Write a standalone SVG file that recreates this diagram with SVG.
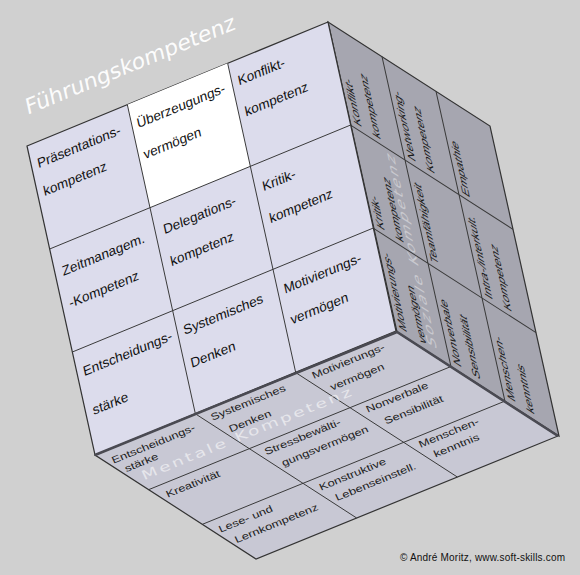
<svg xmlns="http://www.w3.org/2000/svg" width="580" height="575" viewBox="0 0 580 575">
<style>
.face{stroke:#333;stroke-width:1.2;vector-effect:non-scaling-stroke}
.grid{stroke:#3a3a3a;stroke-width:1;vector-effect:non-scaling-stroke;fill:none}
.edge{stroke:#4a4a52;stroke-width:2.5;vector-effect:non-scaling-stroke;fill:none}
text{font-family:"Liberation Sans",Arial,sans-serif}
.ft{font-size:12.8px;fill:#111}
.rt{font-size:12.6px;fill:#1a1a1a}
.bt{font-size:11.9px;fill:#222}
.wm{font-family:"DejaVu Sans",Verdana,sans-serif;fill:#ffffff}
</style>
<rect width="580" height="575" fill="#d0d0d0"/>

<!-- bottom face -->
<g id="bottom-face" transform="matrix(1.00667,-0.41,0.53667,0.34667,95,455)">
  <rect class="face" x="0" y="0" width="300" height="300" fill="#c8c8d4"/>
  <path class="grid" d="M100 0V300M200 0V300M0 100H300M0 200H300"/>
  <text class="wm" transform="matrix(1,0,-0.45,1.45,6,80)" font-size="17" letter-spacing="2.4" opacity="0.55">Mentale Kompetenz</text>
  <g id="b-entscheidung"><text class="bt" transform="matrix(1,0,-0.494,1.579,3,29)">Entscheidungs-</text><text class="bt" transform="matrix(1,0,-0.494,1.579,3,53)">stärke</text></g>
  <g id="b-systemisch"><text class="bt" transform="matrix(1,0,-0.494,1.579,104,24)">Systemisches</text><text class="bt" transform="matrix(1,0,-0.494,1.579,104,58)">Denken</text></g>
  <g id="b-motivierung"><text class="bt" transform="matrix(1,0,-0.494,1.579,205,23)">Motivierungs-</text><text class="bt" transform="matrix(1,0,-0.494,1.579,205,57)">vermögen</text></g>
  <g id="b-kreativ"><text class="bt" transform="matrix(1,0,-0.494,1.579,4,128)">Kreativität</text></g>
  <g id="b-stress"><text class="bt" transform="matrix(1,0,-0.494,1.579,104,124)">Stressbewälti-</text><text class="bt" transform="matrix(1,0,-0.494,1.579,104,156)">gungsvermögen</text></g>
  <g id="b-nonverbal"><text class="bt" transform="matrix(1,0,-0.494,1.579,206,122)">Nonverbale</text><text class="bt" transform="matrix(1,0,-0.494,1.579,206,156)">Sensibilität</text></g>
  <g id="b-lese"><text class="bt" transform="matrix(1,0,-0.494,1.579,3,228)">Lese- und</text><text class="bt" transform="matrix(1,0,-0.494,1.579,3,258)">Lernkompetenz</text></g>
  <g id="b-konstruktiv"><text class="bt" transform="matrix(1,0,-0.494,1.579,104,226)">Konstruktive</text><text class="bt" transform="matrix(1,0,-0.494,1.579,104,256)">Lebenseinstell.</text></g>
  <g id="b-menschen"><text class="bt" transform="matrix(1,0,-0.494,1.579,205,222)">Menschen-</text><text class="bt" transform="matrix(1,0,-0.494,1.579,205,250)">kenntnis</text></g>
</g>

<!-- right face -->
<g id="right-face" transform="matrix(-0.23,-1.03333,0.54,0.34667,397,332)">
  <rect class="face" x="0" y="0" width="300" height="300" fill="#a6a6b0"/>
  <path class="grid" d="M100 0V300M200 0V300M0 100H300M0 200H300"/>
  <text class="wm" transform="matrix(1,0,0,1.5,9,78)" font-size="16" letter-spacing="2.2" opacity="0.4">Soziale Kompetenz</text>
  <g id="r-konflikt"><text class="rt" transform="matrix(1,0,0,1.6,205,22)">Konflikt-</text><text class="rt" transform="matrix(1,0,0,1.6,205,57)">kompetenz</text></g>
  <g id="r-networking"><text class="rt" transform="matrix(1,0,0,1.6,205,122)">Networking-</text><text class="rt" transform="matrix(1,0,0,1.6,205,157)">Kompetenz</text></g>
  <g id="r-empathie"><text class="rt" transform="matrix(1,0,0,1.6,204,222)">Empathie</text></g>
  <g id="r-kritik"><text class="rt" transform="matrix(1,0,0,1.6,105,22)">Kritik-</text><text class="rt" transform="matrix(1,0,0,1.6,105,57)">kompetenz</text></g>
  <g id="r-team"><text class="rt" transform="matrix(1,0,0,1.6,105,122)">Teamfähigkeit</text></g>
  <g id="r-intra"><text class="rt" transform="matrix(1,0,0,1.6,105,222)">Intra-/interkult.</text><text class="rt" transform="matrix(1,0,0,1.6,105,257)">Kompetenz</text></g>
  <g id="r-motivierung"><text class="rt" transform="matrix(1,0,0,1.6,6,21)">Motivierungs-</text><text class="rt" transform="matrix(1,0,0,1.6,6,57)">vermögen</text></g>
  <g id="r-nonverbal"><text class="rt" transform="matrix(1,0,0,1.6,6,122)">Nonverbale</text><text class="rt" transform="matrix(1,0,0,1.6,6,157)">Sensibilität</text></g>
  <g id="r-menschen"><text class="rt" transform="matrix(1,0,0,1.6,6,222)">Menschen-</text><text class="rt" transform="matrix(1,0,0,1.6,6,257)">kenntnis</text></g>
</g>

<!-- front face -->
<g id="front-face" transform="matrix(1.00333,-0.41333,0.22667,1.03,27,146)">
  <rect class="face" x="0" y="0" width="300" height="300" fill="#dcdcec"/>
  <rect x="100" y="0" width="100" height="100" fill="#ffffff"/>
  <path class="grid" d="M100 0V300M200 0V300M0 100H300M0 200H300"/>
  <text class="wm" x="6.5" y="-27.5" font-size="20.5" opacity="0.95">Führungskompetenz</text>
  <g id="f-praesentation"><text class="ft" x="6" y="24">Präsentations-</text><text class="ft" x="6" y="51">kompetenz</text></g>
  <g id="f-ueberzeugung"><text class="ft" x="105" y="25">Überzeugungs-</text><text class="ft" x="105" y="55">vermögen</text></g>
  <g id="f-konflikt"><text class="ft" x="206" y="24">Konflikt-</text><text class="ft" x="206" y="54">kompetenz</text></g>
  <g id="f-zeit"><text class="ft" x="7" y="129">Zeitmanagem.</text><text class="ft" x="7" y="160">-Kompetenz</text></g>
  <g id="f-delegation"><text class="ft" x="108" y="129">Delegations-</text><text class="ft" x="108" y="160">kompetenz</text></g>
  <g id="f-kritik"><text class="ft" x="207" y="127">Kritik-</text><text class="ft" x="207" y="158">kompetenz</text></g>
  <g id="f-entscheidung"><text class="ft" x="6" y="226">Entscheidungs-</text><text class="ft" x="7" y="264">stärke</text></g>
  <g id="f-systemisch"><text class="ft" x="106" y="226">Systemisches</text><text class="ft" x="106" y="258">Denken</text></g>
  <g id="f-motivierung"><text class="ft" x="206" y="226">Motivierungs-</text><text class="ft" x="206" y="256">vermögen</text></g>
</g>

<!-- connectors (face edges) -->
<g id="connectors">
  <path class="edge" d="M95 455L397 332L558 436"/>
</g>

<text x="400" y="561" font-size="10" textLength="165" fill="#111">© André Moritz, www.soft-skills.com</text>
</svg>
